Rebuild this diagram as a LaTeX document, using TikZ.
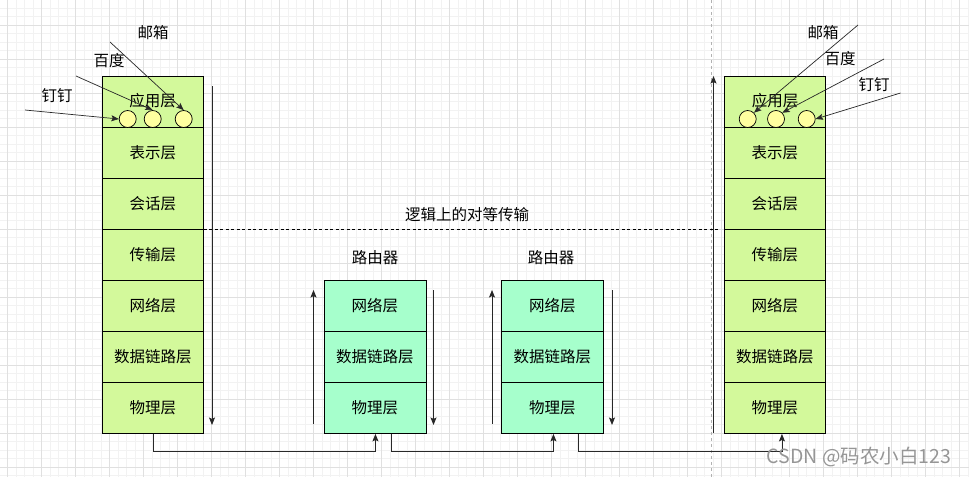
\documentclass[tikz,border=0pt]{standalone}
\usepackage{fontspec}
\setmainfont{Noto Sans CJK SC}
\usetikzlibrary{arrows.meta,calc}
\definecolor{appgreen}{RGB}{211,249,155}
\definecolor{mint}{RGB}{166,255,204}
\definecolor{circy}{RGB}{255,255,160}
\definecolor{linec}{RGB}{40,40,40}
\definecolor{gminorc}{RGB}{242,242,242}
\definecolor{gmajorc}{RGB}{224,224,224}
\definecolor{wmark}{RGB}{150,150,150}
\tikzset{
  layer/.style={draw=black, line width=0.9pt, minimum height=51pt, inner sep=0pt, anchor=north west, font=\fontsize{15.5}{16}\selectfont},
  osi/.style={layer, fill=appgreen, minimum width=101pt},
  rtr/.style={layer, fill=mint, minimum width=102pt},
  port/.style={circle, draw=black, fill=circy, line width=0.7pt, minimum size=17pt, inner sep=0pt},
  lbl/.style={font=\fontsize{15.5}{16}\selectfont, inner sep=0pt},
  ar/.style={draw=linec, line width=0.9pt, -{Stealth[length=7.5pt,width=6pt,inset=1.5pt]}},
  gminor/.style={draw=gminorc, line width=0.6pt},
  gmajor/.style={draw=gmajorc, line width=0.8pt},
}
\begin{document}
\begin{tikzpicture}[x=1pt,y=-1pt]
\useasboundingbox[fill=white] (0,0) rectangle (969,477);
% grid
\foreach \k in {1,...,114} \draw[gminor] ({-0.8+8.5*\k},0) -- ++(0,477);
\foreach \k in {1,...,56} \draw[gminor] (0,{-0.5+8.5*\k}) -- ++(969,0);
\foreach \m in {0,...,28} \draw[gmajor] ({7.7+34*\m},0) -- ++(0,477);
\foreach \m in {1,...,14} \draw[gmajor] (0,{-9+34*\m}) -- ++(969,0);
% page break line
\coordinate (pbt) at (711.5,0);
\coordinate (pbb) at (711.5,477);
\draw[draw=gray!60, line width=0.7pt, dash pattern=on 3pt off 3pt] (pbt) -- (pbb);

% left stack
\node[osi] (L1) at (102,76) {};
\node[lbl] (L1t) at (152.5,101) {应用层};
\node[osi] (L2) at (102,127) {表示层};
\node[osi] (L3) at (102,178) {会话层};
\node[osi] (L4) at (102,229) {传输层};
\node[osi] (L5) at (102,280) {网络层};
\node[osi] (L6) at (102,331) {数据链路层};
\node[osi] (L7) at (102,382) {物理层};
\node[port] (c1) at (127.7,119) {};
\node[port] (c2) at (152.7,119) {};
\node[port] (c3) at (183.7,119) {};

% right stack
\node[osi] (R1) at (724,76) {};
\node[lbl] (R1t) at (775,101) {应用层};
\node[osi] (R2) at (724,127) {表示层};
\node[osi] (R3) at (724,178) {会话层};
\node[osi] (R4) at (724,229) {传输层};
\node[osi] (R5) at (724,280) {网络层};
\node[osi] (R6) at (724,331) {数据链路层};
\node[osi] (R7) at (724,382) {物理层};
\node[port] (rc1) at (747.7,119) {};
\node[port] (rc2) at (776,119) {};
\node[port] (rc3) at (806.7,119) {};

% routers
\node[rtr] (A1) at (323.5,280) {网络层};
\node[rtr] (A2) at (323.5,331) {数据链路层};
\node[rtr] (A3) at (323.5,382) {物理层};
\node[rtr] (B1) at (501,280) {网络层};
\node[rtr] (B2) at (501,331) {数据链路层};
\node[rtr] (B3) at (501,382) {物理层};
\node[lbl] (ra) at (375,258) {路由器};
\node[lbl] (rb) at (551,258) {路由器};

% labels
\node[lbl] (m1) at (153,33) {邮箱};
\node[lbl] (b1) at (109,61) {百度};
\node[lbl] (d1) at (57,96) {钉钉};
\node[lbl] (m2) at (823,33) {邮箱};
\node[lbl] (b2) at (840,59) {百度};
\node[lbl] (d2) at (874,85) {钉钉};
\node[lbl] (logic) at (467,215) {逻辑上的对等传输};

% app arrows
\coordinate (s1) at (25,110);
\coordinate (s2) at (76,76);
\coordinate (s3) at (110,42);
\coordinate (t1) at (858,25);
\coordinate (t2) at (884,59);
\coordinate (t3) at (900.5,93);
\draw[ar, line width=0.7pt] (s1) -- (c1.west);
\draw[ar, line width=0.7pt] (s2) -- (c2.north);
\draw[ar, line width=0.7pt] (s3) -- (c3.north);
\draw[ar, line width=0.7pt] (t1) -- (rc1.north east);
\draw[ar, line width=0.7pt] (t2) -- (rc2.north east);
\draw[ar, line width=0.7pt] (t3) -- (rc3.east);

% vertical flow arrows
\coordinate (v1a) at (212,86);   \coordinate (v1b) at (212,425);
\coordinate (v2a) at (313.5,424); \coordinate (v2b) at (313.5,290);
\coordinate (v3a) at (433.5,290); \coordinate (v3b) at (433.5,425);
\coordinate (v4a) at (492,424);  \coordinate (v4b) at (492,290);
\coordinate (v5a) at (612,290);  \coordinate (v5b) at (612,425);
\coordinate (v6a) at (713.5,433); \coordinate (v6b) at (713.5,76);
\draw[ar] (v1a) -- (v1b);
\draw[ar] (v2a) -- (v2b);
\draw[ar] (v3a) -- (v3b);
\draw[ar] (v4a) -- (v4b);
\draw[ar] (v5a) -- (v5b);
\draw[ar] (v6a) -- (v6b);

% logical dashed line
\draw[draw=black, line width=0.7pt, dash pattern=on 3pt off 2.5pt] (L4.north east) -- ($(R4.north west)+(-6,0)$);

% physical links
\draw[ar] (L7.south) -- ++(0,18) -| ($(A3.south)+(0.5,0)$);
\draw[ar] ($(A3.south)+(16.5,0)$) -- ++(0,18) -| ($(B3.south)+(1,0)$);
\draw[ar] ($(B3.south)+(26,0)$) -- ++(0,18) -| ($(R7.south)+(7,0)$);

% watermark
\node[font=\fontsize{19.5}{20}\selectfont, text=wmark, inner sep=0pt] (wm) at (859,457) {CSDN @码农小白123};
\end{tikzpicture}
\end{document}
